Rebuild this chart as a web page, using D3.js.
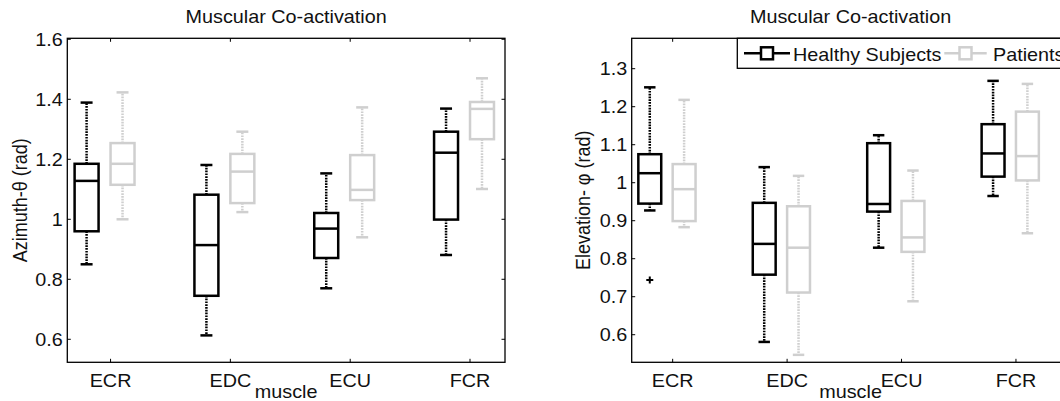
<!DOCTYPE html>
<html>
<head>
<meta charset="utf-8">
<script src="https://cdn.jsdelivr.net/npm/d3@7"></script>
<style>
  html, body { margin: 0; padding: 0; background: #fff; overflow: hidden; }
  svg { display: block; }
  text { font-family: "Liberation Sans", Arial, Helvetica, sans-serif; font-size: 18px; fill: #111; }
</style>
</head>
<body>
<svg id="chart" width="1060" height="401"></svg>
<script>
// ---- data -------------------------------------------------------------
const muscles = ["ECR", "EDC", "ECU", "FCR"];
const seriesNames = ["Healthy Subjects", "Patients"];

// Five-number summaries per muscle: [lower whisker, Q1, median, Q3, upper whisker]
const azimuthHealthy = [
  [0.850, 0.960, 1.128, 1.185, 1.389],
  [0.613, 0.745, 0.914, 1.082, 1.181],
  [0.770, 0.871, 0.969, 1.021, 1.153],
  [0.881, 0.999, 1.222, 1.292, 1.369]
];
const azimuthPatients = [
  [1.000, 1.115, 1.185, 1.254, 1.423],
  [1.024, 1.054, 1.159, 1.218, 1.292],
  [0.940, 1.064, 1.098, 1.214, 1.373],
  [1.101, 1.267, 1.368, 1.391, 1.470]
];
const elevationHealthy = [
  [0.927, 0.945, 1.025, 1.075, 1.251],
  [0.581, 0.758, 0.839, 0.947, 1.041],
  [0.829, 0.924, 0.944, 1.104, 1.125],
  [0.965, 1.016, 1.077, 1.154, 1.268]
];
const elevationPatients = [
  [0.883, 0.899, 0.983, 1.049, 1.218],
  [0.547, 0.711, 0.829, 0.938, 1.018],
  [0.688, 0.818, 0.856, 0.952, 1.032],
  [0.867, 1.006, 1.070, 1.187, 1.260]
];
// Outliers: [muscle, value]
const azimuthHealthyOutliers = [];
const azimuthPatientsOutliers = [];
const elevationHealthyOutliers = [["ECR", 0.744]];
const elevationPatientsOutliers = [];

const azimuthTicks = [0.6, 0.8, 1, 1.2, 1.4, 1.6];
const elevationTicks = [0.6, 0.7, 0.8, 0.9, 1, 1.1, 1.2, 1.3];

// ---- styling ----------------------------------------------------------
const SX = 1.1;                       // horizontal text stretch
const colors = ["#000000", "#cfcfcf"];
const offsets = [-0.2, 0.1];          // box position relative to category
const boxW = 0.2, capW = 0.1;
const TICK = 3.5;

const svg = d3.select("#chart");

function label(g, x, y, s, anchor, rotated) {
  return g.append("text")
    .attr("transform", rotated
      ? `translate(${x},${y}) rotate(-90) scale(1,${SX})`
      : `translate(${x},${y}) scale(${SX},1)`)
    .attr("text-anchor", anchor)
    .text(s);
}

function panel(cfg) {
  const g = svg.append("g");
  const x = d3.scaleLinear().domain(cfg.xDomain).range(cfg.xRange);
  const y = d3.scaleLinear().domain(cfg.yDomain).range([362.3, 38.3]);
  const [xl, xr] = cfg.xRange, yt = y.range()[1], yb = y.range()[0];

  // frame
  g.append("rect")
    .attr("x", xl).attr("y", yt).attr("width", xr - xl).attr("height", yb - yt)
    .attr("fill", "none").attr("stroke", "#000").attr("stroke-width", 1.3);

  // y ticks (left and right, inward) and labels
  cfg.yTicks.forEach(v => {
    const yy = y(v);
    g.append("line").attr("x1", xl).attr("x2", xl + TICK).attr("y1", yy).attr("y2", yy)
      .attr("stroke", "#000").attr("stroke-width", 1);
    g.append("line").attr("x1", xr).attr("x2", xr - TICK).attr("y1", yy).attr("y2", yy)
      .attr("stroke", "#000").attr("stroke-width", 1);
    label(g, xl - 4.5, yy + 6.5, String(v), "end");
  });

  // x ticks (bottom and top, inward) and labels
  muscles.forEach((m, i) => {
    const xx = x(i + 1);
    g.append("line").attr("x1", xx).attr("x2", xx).attr("y1", yb).attr("y2", yb - TICK)
      .attr("stroke", "#000").attr("stroke-width", 1);
    g.append("line").attr("x1", xx).attr("x2", xx).attr("y1", yt).attr("y2", yt + TICK)
      .attr("stroke", "#000").attr("stroke-width", 1);
    label(g, xx, 386.5, m, "middle");
  });

  const cx = (xl + xr) / 2;
  label(g, cx, 22.5, "Muscular Co-activation", "middle");
  label(g, cx, 397.5, "muscle", "middle");
  label(g, cfg.yLabelX, (yt + yb) / 2, cfg.yLabel, "middle", true);

  // boxes
  cfg.series.forEach((data, s) => {
    const col = colors[s];
    const sg = g.append("g");
    data.forEach((d, i) => {
      const p = i + 1 + offsets[s];
      const [lo, q1, med, q3, hi] = d;
      // whiskers (dotted)
      [[q3, hi], [q1, lo]].forEach(([a, b]) => {
        sg.append("line").attr("x1", x(p)).attr("x2", x(p)).attr("y1", y(a)).attr("y2", y(b))
          .attr("stroke", col).attr("stroke-width", 2.5).attr("stroke-dasharray", "1.7,1.1");
      });
      // caps
      [lo, hi].forEach(v => {
        sg.append("line").attr("x1", x(p - capW / 2)).attr("x2", x(p + capW / 2))
          .attr("y1", y(v)).attr("y2", y(v))
          .attr("stroke", col).attr("stroke-width", 2.5);
      });
      // box
      sg.append("rect")
        .attr("x", x(p - boxW / 2)).attr("width", x(p + boxW / 2) - x(p - boxW / 2))
        .attr("y", y(q3)).attr("height", y(q1) - y(q3))
        .attr("fill", "none").attr("stroke", col).attr("stroke-width", 2.5);
      // median
      sg.append("line").attr("x1", x(p - boxW / 2)).attr("x2", x(p + boxW / 2))
        .attr("y1", y(med)).attr("y2", y(med))
        .attr("stroke", col).attr("stroke-width", 2.5);
    });
    // outliers
    cfg.outliers[s].forEach(([m, v]) => {
      const p = muscles.indexOf(m) + 1 + offsets[s];
      const px = x(p), py = y(v);
      sg.append("path").attr("d", `M${px - 3.5},${py}H${px + 3.5}M${px},${py - 3.5}V${py + 3.5}`)
        .attr("stroke", col).attr("stroke-width", 2).attr("fill", "none");
    });
  });
  return g;
}

panel({
  xRange: [67.3, 505], xDomain: [0.639, 4.292],
  yDomain: [0.5233, 1.6033], yTicks: azimuthTicks,
  yLabel: "Azimuth-\u03B8 (rad)", yLabelX: 27,
  series: [azimuthHealthy, azimuthPatients],
  outliers: [azimuthHealthyOutliers, azimuthPatientsOutliers]
});

panel({
  xRange: [631.7, 1069.4], xDomain: [0.642, 4.467],
  yDomain: [0.5274, 1.3800], yTicks: elevationTicks,
  yLabel: "Elevation- \u03C6 (rad)", yLabelX: 590,
  series: [elevationHealthy, elevationPatients],
  outliers: [elevationHealthyOutliers, elevationPatientsOutliers]
});

// legend
const lg = svg.append("g");
lg.append("rect").attr("x", 737.3).attr("y", 38.3).attr("width", 340).attr("height", 30)
  .attr("fill", "#fff").attr("stroke", "#000").attr("stroke-width", 1.3);
const legendItems = [
  { x0: 744, x1: 790, tx: 793 },
  { x0: 944.3, x1: 986.7, tx: 993 }
];
seriesNames.forEach((name, s) => {
  const it = legendItems[s], ly = 53.3, mid = (it.x0 + it.x1) / 2;
  lg.append("line").attr("x1", it.x0).attr("x2", it.x1).attr("y1", ly).attr("y2", ly)
    .attr("stroke", colors[s]).attr("stroke-width", 2.5);
  lg.append("rect").attr("x", mid - 6).attr("y", ly - 6).attr("width", 12).attr("height", 12)
    .attr("fill", "#fff").attr("stroke", colors[s]).attr("stroke-width", 2.5);
  label(lg, it.tx, 61.3, name, "start");
});
</script>
</body>
</html>
